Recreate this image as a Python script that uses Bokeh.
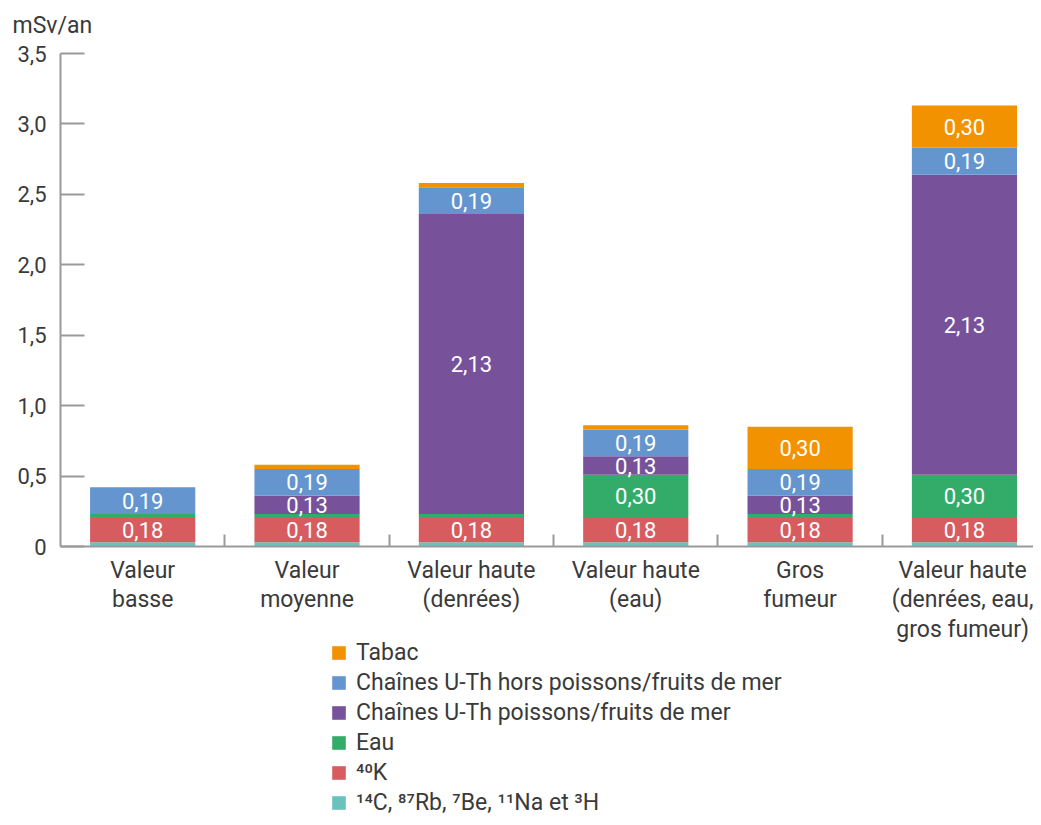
from bokeh.plotting import figure
from bokeh.models import (ColumnDataSource, FixedTicker, Range1d, Legend, LegendItem,
                          LinearAxis, Label)
from bokeh.core.properties import value
from bokeh.embed import file_html
from bokeh.resources import INLINE

categories = ["Valeur\nbasse", "Valeur\nmoyenne", "Valeur haute\n(denrées)",
              "Valeur haute\n(eau)", "Gros\nfumeur", "Valeur haute\n(denrées, eau,\ngros fumeur)"]
autres = [0.03, 0.03, 0.03, 0.03, 0.03, 0.03]
k40 = [0.18, 0.18, 0.18, 0.18, 0.18, 0.18]
eau = [0.02, 0.02, 0.02, 0.30, 0.02, 0.30]
poissons = [0.0, 0.13, 2.13, 0.13, 0.13, 2.13]
hors_poissons = [0.19, 0.19, 0.19, 0.19, 0.19, 0.19]
tabac = [0.0, 0.03, 0.03, 0.03, 0.30, 0.30]

series_names = ["¹⁴C, ⁸⁷Rb, ⁷Be, ¹¹Na et ³H", "⁴⁰K", "Eau",
                "Chaînes U-Th poissons/fruits de mer",
                "Chaînes U-Th hors poissons/fruits de mer", "Tabac"]
series_values = [autres, k40, eau, poissons, hors_poissons, tabac]
colors = ["#6AC2BE", "#D75C60", "#33AC6A", "#77529B", "#6495CF", "#F39200"]
y_ticks = [0, 0.5, 1.0, 1.5, 2.0, 2.5, 3.0, 3.5]
y_tick_labels = ["0", "0,5", "1,0", "1,5", "2,0", "2,5", "3,0", "3,5"]
y_max = 3.5
n_cat = len(categories)

FONT = "Roboto"
TXT = "#3a3a3a"
AX = "#9a9a9a"

W, H = 1033, 817
left_px, top_px, bottom_px = 60, 53, 546
px_per_y = (bottom_px - top_px) / y_max
x_end = 5.92
px_per_x = (W - left_px) / x_end

xs = [i + 0.5 for i in range(n_cat)]
keys = [f"s{i}" for i in range(len(series_values))]
data = {"x": xs}
for k, v in zip(keys, series_values):
    data[k] = v
src = ColumnDataSource(data)

x_range = Range1d(-left_px / px_per_x, x_end)
y_range = Range1d(-(H - bottom_px) / px_per_y, y_max + top_px / px_per_y)

p = figure(width=W, height=H, x_range=x_range, y_range=y_range,
           output_backend="svg", toolbar_location=None,
           x_axis_location=None, y_axis_location=None,
           min_border=0, min_border_left=0, min_border_right=0,
           min_border_top=0, min_border_bottom=0)
p.outline_line_color = None
p.xgrid.visible = False
p.ygrid.visible = False

rends = p.vbar_stack(keys, x="x", width=0.64, source=src, color=colors, line_color=None)

# labels in segments
lx, ly, lt = [], [], []
for i in range(n_cat):
    base = 0.0
    for vals in series_values:
        v = vals[i]
        if v >= 0.1:
            lx.append(xs[i])
            ly.append(base + v / 2)
            lt.append(f"{v:.2f}".replace(".", ","))
        base += v
p.text(x=lx, y=ly, text=lt, text_color="white", text_font=value(FONT),
       text_font_size="22px", text_align="center", text_baseline="middle")

# y axis
ya = LinearAxis(fixed_location=0, bounds=(0, y_max))
ya.ticker = FixedTicker(ticks=y_ticks)
ya.major_label_overrides = {t: l for t, l in zip(y_ticks, y_tick_labels)}
ya.major_tick_in = 24
ya.major_tick_out = 0
ya.minor_tick_line_color = None
ya.axis_line_color = AX
ya.axis_line_width = 2
ya.major_tick_line_color = AX
ya.major_tick_line_width = 2
ya.major_label_text_font = FONT
ya.major_label_text_font_size = "22px"
ya.major_label_text_color = TXT
ya.major_label_standoff = 14
p.add_layout(ya, "left")

# x axis
xa = LinearAxis(fixed_location=0, bounds=(0, x_end))
xa.ticker = FixedTicker(ticks=xs, minor_ticks=list(range(1, n_cat)))
xa.major_label_overrides = {x: c for x, c in zip(xs, categories)}
xa.major_tick_in = 0
xa.major_tick_out = 0
xa.minor_tick_in = 12
xa.minor_tick_out = 0
xa.minor_tick_line_color = AX
xa.minor_tick_line_width = 2
xa.axis_line_color = AX
xa.axis_line_width = 2
xa.major_label_text_font = FONT
xa.major_label_text_font_size = "23px"
xa.major_label_text_line_height = 1.1
xa.major_label_text_color = TXT
xa.major_label_standoff = 10
p.add_layout(xa, "below")

unit = Label(x=x_range.start + 12 / px_per_x, y=y_max + 28 / px_per_y, text="mSv/an",
             text_font=FONT, text_font_size="23px", text_color=TXT,
             text_baseline="middle", text_align="left")
p.add_layout(unit)

items = [LegendItem(label=n, renderers=[r]) for n, r in zip(series_names, rends)][::-1]
legend = Legend(items=items, location=(330, 1), orientation="vertical",
                border_line_color=None, background_fill_alpha=0, padding=0, margin=0,
                glyph_width=17, glyph_height=17, label_standoff=9, spacing=3,
                label_text_font=FONT, label_text_font_size="23px", label_text_color=TXT)
p.add_layout(legend)

open("out.html", "w").write(file_html(p, INLINE))
